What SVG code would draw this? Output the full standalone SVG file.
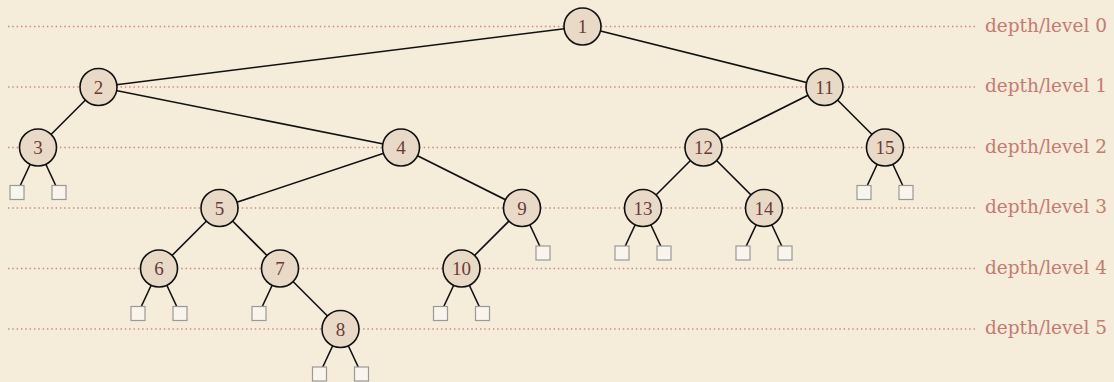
<svg xmlns="http://www.w3.org/2000/svg" width="1114" height="382" viewBox="0 0 1114 382">
<style>
.lvl{stroke:#cf8582;stroke-width:1.5;stroke-dasharray:1.4 2.93;fill:none}
.lbl{font-family:"DejaVu Serif",serif;font-size:18px;fill:#c47b72}
.e{stroke:#111;stroke-width:1.6;fill:none}
.n circle{fill:#e8dac7;stroke:#111;stroke-width:1.6}
.n text{font-family:"Liberation Serif",serif;font-size:19px;fill:#6b3a36;text-anchor:middle}
.leaf{fill:#f9f5ed;stroke:#999;stroke-width:1.2}
</style>
<rect width="1114" height="382" fill="#f5ecda"/>
<g id="levels">
<line class="lvl" x1="8" y1="26.5" x2="976" y2="26.5"/>
<line class="lvl" x1="8" y1="87" x2="976" y2="87"/>
<line class="lvl" x1="8" y1="147.5" x2="976" y2="147.5"/>
<line class="lvl" x1="8" y1="208" x2="976" y2="208"/>
<line class="lvl" x1="8" y1="268.5" x2="976" y2="268.5"/>
<line class="lvl" x1="8" y1="329" x2="976" y2="329"/>
<text class="lbl" x="985" y="31.5" textLength="122" lengthAdjust="spacingAndGlyphs">depth/level 0</text>
<text class="lbl" x="985" y="92" textLength="122" lengthAdjust="spacingAndGlyphs">depth/level 1</text>
<text class="lbl" x="985" y="152.5" textLength="122" lengthAdjust="spacingAndGlyphs">depth/level 2</text>
<text class="lbl" x="985" y="213" textLength="122" lengthAdjust="spacingAndGlyphs">depth/level 3</text>
<text class="lbl" x="985" y="273.5" textLength="122" lengthAdjust="spacingAndGlyphs">depth/level 4</text>
<text class="lbl" x="985" y="334" textLength="122" lengthAdjust="spacingAndGlyphs">depth/level 5</text>
</g>
<g id="connectors">
<line class="e" x1="582.5" y1="26.5" x2="98.5" y2="87"/>
<line class="e" x1="582.5" y1="26.5" x2="824.5" y2="87"/>
<line class="e" x1="98.5" y1="87" x2="38" y2="147.5"/>
<line class="e" x1="98.5" y1="87" x2="401" y2="147.5"/>
<line class="e" x1="401" y1="147.5" x2="219.5" y2="208"/>
<line class="e" x1="401" y1="147.5" x2="522" y2="208"/>
<line class="e" x1="219.5" y1="208" x2="159" y2="268.5"/>
<line class="e" x1="219.5" y1="208" x2="280" y2="268.5"/>
<line class="e" x1="280" y1="268.5" x2="340.5" y2="329"/>
<line class="e" x1="522" y1="208" x2="461.5" y2="268.5"/>
<line class="e" x1="824.5" y1="87" x2="703.5" y2="147.5"/>
<line class="e" x1="824.5" y1="87" x2="885" y2="147.5"/>
<line class="e" x1="703.5" y1="147.5" x2="643" y2="208"/>
<line class="e" x1="703.5" y1="147.5" x2="764" y2="208"/>
<line class="e" x1="38" y1="147.5" x2="17" y2="192.5"/>
<line class="e" x1="38" y1="147.5" x2="59" y2="192.5"/>
<line class="e" x1="885" y1="147.5" x2="864" y2="192.5"/>
<line class="e" x1="885" y1="147.5" x2="906" y2="192.5"/>
<line class="e" x1="522" y1="208" x2="543" y2="253"/>
<line class="e" x1="643" y1="208" x2="622" y2="253"/>
<line class="e" x1="643" y1="208" x2="664" y2="253"/>
<line class="e" x1="764" y1="208" x2="743" y2="253"/>
<line class="e" x1="764" y1="208" x2="785" y2="253"/>
<line class="e" x1="159" y1="268.5" x2="138" y2="313.5"/>
<line class="e" x1="159" y1="268.5" x2="180" y2="313.5"/>
<line class="e" x1="280" y1="268.5" x2="259" y2="313.5"/>
<line class="e" x1="461.5" y1="268.5" x2="440.5" y2="313.5"/>
<line class="e" x1="461.5" y1="268.5" x2="482.5" y2="313.5"/>
<line class="e" x1="340.5" y1="329" x2="319.5" y2="374"/>
<line class="e" x1="340.5" y1="329" x2="361.5" y2="374"/>
</g>
<g id="leaves">
<rect class="leaf" x="10" y="185.5" width="14" height="14"/>
<rect class="leaf" x="52" y="185.5" width="14" height="14"/>
<rect class="leaf" x="857" y="185.5" width="14" height="14"/>
<rect class="leaf" x="899" y="185.5" width="14" height="14"/>
<rect class="leaf" x="536" y="246" width="14" height="14"/>
<rect class="leaf" x="615" y="246" width="14" height="14"/>
<rect class="leaf" x="657" y="246" width="14" height="14"/>
<rect class="leaf" x="736" y="246" width="14" height="14"/>
<rect class="leaf" x="778" y="246" width="14" height="14"/>
<rect class="leaf" x="131" y="306.5" width="14" height="14"/>
<rect class="leaf" x="173" y="306.5" width="14" height="14"/>
<rect class="leaf" x="252" y="306.5" width="14" height="14"/>
<rect class="leaf" x="433.5" y="306.5" width="14" height="14"/>
<rect class="leaf" x="475.5" y="306.5" width="14" height="14"/>
<rect class="leaf" x="312.5" y="367" width="14" height="14"/>
<rect class="leaf" x="354.5" y="367" width="14" height="14"/>
</g>
<g id="n1" class="n"><circle cx="582.5" cy="26.5" r="18.5"/><text x="582.5" y="33">1</text></g>
<g id="n2" class="n"><circle cx="98.5" cy="87" r="18.5"/><text x="98.5" y="93.5">2</text></g>
<g id="n11" class="n"><circle cx="824.5" cy="87" r="18.5"/><text x="824.5" y="93.5">11</text></g>
<g id="n3" class="n"><circle cx="38" cy="147.5" r="18.5"/><text x="38" y="154">3</text></g>
<g id="n4" class="n"><circle cx="401" cy="147.5" r="18.5"/><text x="401" y="154">4</text></g>
<g id="n12" class="n"><circle cx="703.5" cy="147.5" r="18.5"/><text x="703.5" y="154">12</text></g>
<g id="n15" class="n"><circle cx="885" cy="147.5" r="18.5"/><text x="885" y="154">15</text></g>
<g id="n5" class="n"><circle cx="219.5" cy="208" r="18.5"/><text x="219.5" y="214.5">5</text></g>
<g id="n9" class="n"><circle cx="522" cy="208" r="18.5"/><text x="522" y="214.5">9</text></g>
<g id="n13" class="n"><circle cx="643" cy="208" r="18.5"/><text x="643" y="214.5">13</text></g>
<g id="n14" class="n"><circle cx="764" cy="208" r="18.5"/><text x="764" y="214.5">14</text></g>
<g id="n6" class="n"><circle cx="159" cy="268.5" r="18.5"/><text x="159" y="275">6</text></g>
<g id="n7" class="n"><circle cx="280" cy="268.5" r="18.5"/><text x="280" y="275">7</text></g>
<g id="n10" class="n"><circle cx="461.5" cy="268.5" r="18.5"/><text x="461.5" y="275">10</text></g>
<g id="n8" class="n"><circle cx="340.5" cy="329" r="18.5"/><text x="340.5" y="335.5">8</text></g>
</svg>
